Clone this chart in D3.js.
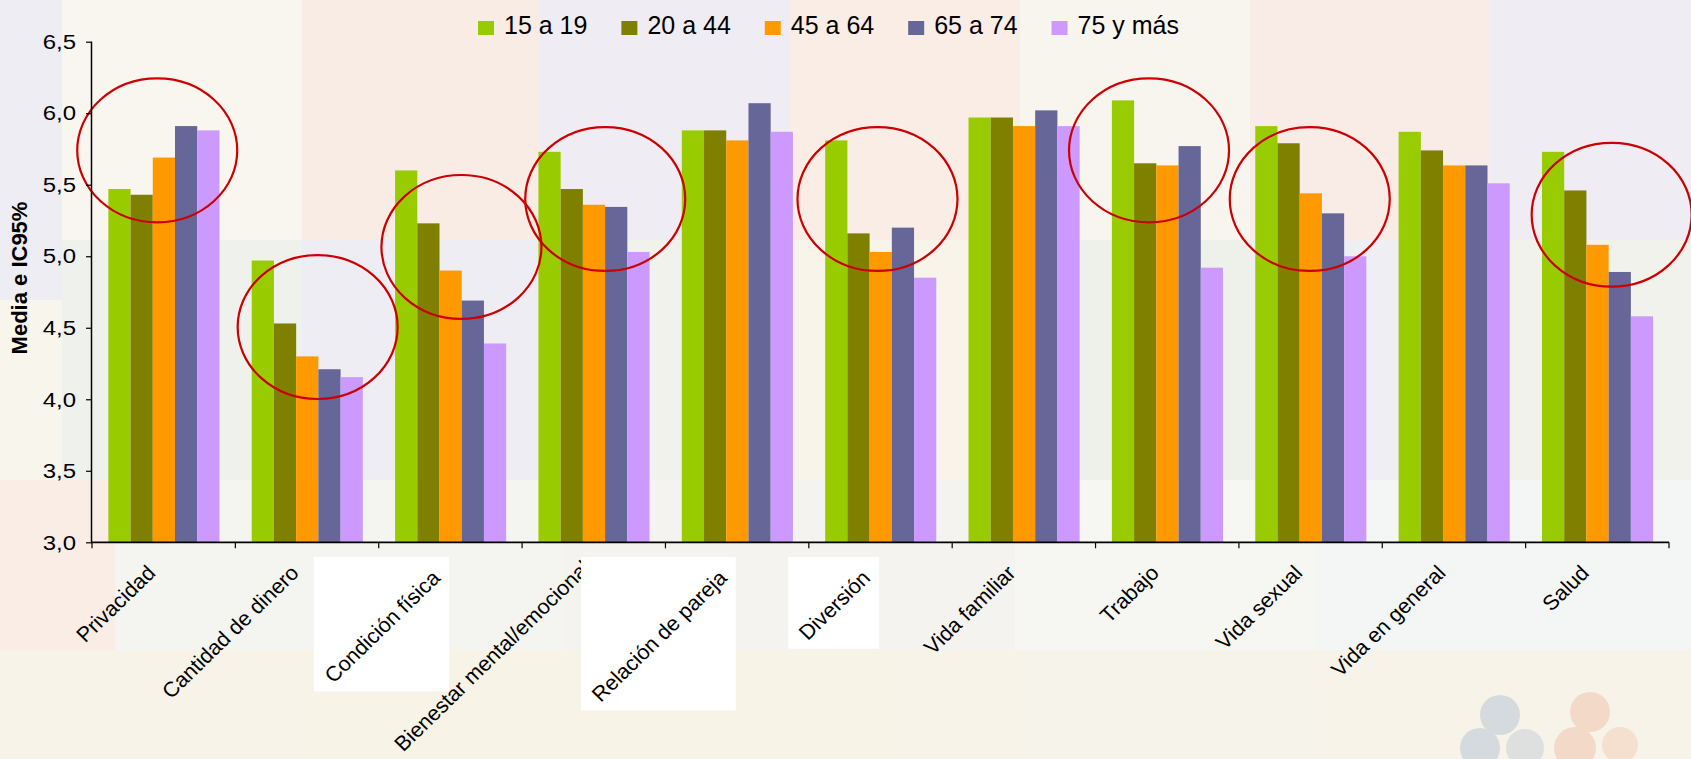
<!DOCTYPE html>
<html>
<head>
<meta charset="utf-8">
<script src="https://cdn.jsdelivr.net/npm/d3@7/dist/d3.min.js"></script>
<style>
  html, body { margin: 0; padding: 0; background: #f6f4ef; }
  svg { display: block; }
  text { font-family: "Liberation Sans", Arial, sans-serif; fill: #000; }
</style>
</head>
<body>
<svg id="chart" width="1691" height="759"></svg>
<script>
// ---------------- data ----------------
const categories = ["Privacidad", "Cantidad de dinero", "Condición física", "Bienestar mental/emocional",
  "Relación de pareja", "Diversión", "Vida familiar", "Trabajo", "Vida sexual", "Vida en general", "Salud"];
const seriesNames = ["15 a 19", "20 a 44", "45 a 64", "65 a 74", "75 y más"];
const seriesColors = ["#99cc00", "#808000", "#ff9900", "#666699", "#cc99ff"];
const v15a19 = [5.47, 4.97, 5.60, 5.73, 5.88, 5.81, 5.97, 6.09, 5.91, 5.87, 5.73];
const v20a44 = [5.43, 4.53, 5.23, 5.47, 5.88, 5.16, 5.97, 5.65, 5.79, 5.74, 5.46];
const v45a64 = [5.69, 4.30, 4.90, 5.36, 5.81, 5.03, 5.91, 5.635, 5.44, 5.635, 5.08];
const v65a74 = [5.91, 4.21, 4.69, 5.345, 6.07, 5.20, 6.02, 5.77, 5.30, 5.635, 4.89];
const v75mas = [5.88, 4.155, 4.39, 5.03, 5.87, 4.85, 5.91, 4.92, 5.00, 5.51, 4.58];
const seriesValues = [v15a19, v20a44, v45a64, v65a74, v75mas];
const yTicks = [3.0, 3.5, 4.0, 4.5, 5.0, 5.5, 6.0, 6.5];
const yTitle = "Media e IC95%";
// labels that appear as pasted pictures on a white patch in the original
const boxedLabels = ["Condición física", "Relación de pareja", "Diversión"];
// red highlight ellipses: category, centre value, horizontal offset (fraction of band)
const highlightCats    = ["Privacidad", "Cantidad de dinero", "Condición física", "Bienestar mental/emocional", "Diversión", "Trabajo", "Vida sexual", "Salud"];
const highlightCenters = [5.74, 4.505, 5.065, 5.40, 5.40, 5.74, 5.40, 5.29];
const highlightShift   = [-0.045, 0.074, 0.077, 0.08, -0.021, -0.127, -0.006, 0.10];

// ---------------- layout ----------------
const W = 1691, H = 759;
const plot = { left: 92, right: 1669, top: 41.7, bottom: 542.3 };
const svg = d3.select("#chart");

// faint collage background
const bgTiles = [
  [0, 0, 62, 300, "#efedf4"], [62, 0, 240, 240, "#f8f6ef"], [302, 0, 238, 240, "#f9ece5"],
  [540, 0, 250, 240, "#efedf3"], [790, 0, 230, 240, "#f9ede6"], [1020, 0, 230, 240, "#f8f5ef"],
  [1250, 0, 240, 240, "#f9ece6"], [1490, 0, 201, 240, "#efedf3"],
  [0, 300, 62, 180, "#f8f5ec"], [62, 240, 240, 240, "#eef1ec"], [302, 240, 238, 240, "#eeedf3"],
  [540, 240, 250, 240, "#f2f2ec"], [790, 240, 230, 240, "#f8f4ea"], [1020, 240, 230, 240, "#eef0ea"],
  [1250, 240, 240, 240, "#efeef3"], [1490, 240, 201, 240, "#f1f2ec"],
  [0, 480, 115, 170, "#f9ede6"], [115, 480, 450, 170, "#f4f5f1"], [565, 480, 450, 170, "#f4f3ef"],
  [1015, 480, 300, 170, "#f6f6f3"], [1315, 480, 376, 170, "#f4f5f5"],
  [0, 650, 1691, 109, "#f8f3e8"], [300, 650, 600, 109, "#f7f3e6"], [1020, 650, 300, 109, "#f6f3ea"]
];
svg.append("g").selectAll("rect").data(bgTiles).join("rect")
  .attr("x", d => d[0]).attr("y", d => d[1]).attr("width", d => d[2]).attr("height", d => d[3])
  .attr("fill", d => d[4]);

// faint logo bottom right
const logo = svg.append("g").attr("opacity", 0.28);
const logoBlobs = [[1500, 715, 20, "#7f9cc9"], [1480, 748, 20, "#7f9cc9"], [1525, 748, 19, "#9fb0cf"],
  [1590, 712, 20, "#e99a73"], [1575, 748, 21, "#e99a73"], [1620, 745, 18, "#f0b090"]];
logo.selectAll("circle").data(logoBlobs).join("circle")
  .attr("cx", d => d[0]).attr("cy", d => d[1]).attr("r", d => d[2]).attr("fill", d => d[3]);

// scales
const x0 = d3.scaleBand().domain(categories).range([plot.left, plot.right]).paddingInner(0).paddingOuter(0);
const bw = x0.bandwidth();
const x1 = d3.scaleBand().domain(d3.range(seriesNames.length)).range([bw * 0.114, bw * 0.889]).padding(0);
const y = d3.scaleLinear().domain([3, 6.5]).range([plot.bottom, plot.top]);

// bars
const barsG = svg.append("g");
categories.forEach((c, ci) => {
  const g = barsG.append("g").attr("transform", `translate(${x0(c)},0)`);
  g.selectAll("rect").data(seriesValues.map((vals, si) => ({ si, v: vals[ci] }))).join("rect")
    .attr("x", d => x1(d.si))
    .attr("width", x1.bandwidth())
    .attr("y", d => y(d.v))
    .attr("height", d => y(3) - y(d.v))
    .attr("fill", d => seriesColors[d.si]);
});

// highlight ellipses
svg.append("g").selectAll("ellipse").data(highlightCats).join("ellipse")
  .attr("cx", (c, i) => x0(c) + bw * (0.5 + highlightShift[i]))
  .attr("cy", (c, i) => y(highlightCenters[i]))
  .attr("rx", bw * 0.558)
  .attr("ry", y(0) - y(0.503))
  .attr("fill", "none")
  .attr("stroke", "#cc0000")
  .attr("stroke-width", 2.2);

// y axis
const fmt = d => d3.format(".1f")(d).replace(".", ",");
const yAxis = svg.append("g").attr("transform", `translate(${plot.left},0)`)
  .call(d3.axisLeft(y).tickValues(yTicks).tickFormat(fmt).tickSize(6).tickPadding(10));
yAxis.select(".domain").attr("stroke", "#000").attr("stroke-width", 1.5).attr("d", `M-0.5,${plot.top}V${plot.bottom}`);
yAxis.selectAll(".tick line").attr("stroke", "#000").attr("stroke-width", 1.2);
yAxis.selectAll(".tick text")
  .attr("font-size", 21).attr("font-family", "Liberation Sans, Arial, sans-serif").attr("fill", "#000")
  .attr("x", -16 / 1.14).attr("transform", "scale(1.14,1)");

// x axis (ticks at category boundaries)
const edges = categories.map(c => x0(c)).concat([plot.right]);
const xAxisG = svg.append("g");
xAxisG.append("line").attr("x1", plot.left - 1).attr("x2", plot.right).attr("y1", plot.bottom).attr("y2", plot.bottom)
  .attr("stroke", "#000").attr("stroke-width", 1.8);
xAxisG.selectAll("line.tk").data(edges).join("line").attr("class", "tk")
  .attr("x1", d => d).attr("x2", d => d).attr("y1", plot.bottom).attr("y2", plot.bottom + 6)
  .attr("stroke", "#000").attr("stroke-width", 1.2);

// category labels, rotated
const labG = svg.append("g");
const lbDx = -7, lbDy = 32, stretch = 1.03;
categories.forEach(c => {
  const cx = x0(c) + bw / 2;
  const boxed = boxedLabels.includes(c);
  const ax = cx + lbDx + (boxed ? -2 : 0), ay = plot.bottom + lbDy + (boxed ? 5 : 0);
  const g = labG.append("g").attr("transform", `translate(${ax},${ay}) scale(${stretch},1) rotate(-45)`);
  const t = g.append("text").attr("text-anchor", "end").attr("font-size", 21).text(c)
    .attr("fill", boxed ? "#1a1a1a" : "#000");
  // a very long label runs on a little further (its tail is hidden by the next patch, as in the original)
  if (t.node().getComputedTextLength() > 1.6 * bw) t.attr("dx", 7);
  if (boxed) {
    const r = g.node().getBoundingClientRect();
    const bx0 = r.left - 6, bx1 = r.right + 4, by0 = r.top - 9, by1 = r.bottom + 4;
    labG.insert("rect", () => g.node())
      .attr("x", bx0).attr("y", by0).attr("width", bx1 - bx0).attr("height", by1 - by0).attr("fill", "#ffffff");
  }
});

// y title
svg.append("text")
  .attr("transform", `translate(27,${(plot.top + plot.bottom) / 2 - 14}) rotate(-90)`)
  .attr("text-anchor", "middle").attr("font-size", 22).attr("font-weight", "bold").text(yTitle);

// legend
const leg = svg.append("g");
const items = [];
seriesNames.forEach((name, i) => {
  const g = leg.append("g");
  g.append("rect").attr("x", 0).attr("y", -13).attr("width", 16).attr("height", 14).attr("fill", seriesColors[i]);
  const t = g.append("text").attr("x", 26).attr("y", 0).attr("font-size", 25).text(name);
  const w = 26 + t.node().getComputedTextLength();
  items.push({ g, w });
});
const legStart = 478, legEnd = 1179;
const gap = (legEnd - legStart - d3.sum(items, d => d.w)) / (items.length - 1);
let cur = legStart;
items.forEach(it => { it.g.attr("transform", `translate(${cur},34)`); cur += it.w + gap; });
</script>
</body>
</html>
